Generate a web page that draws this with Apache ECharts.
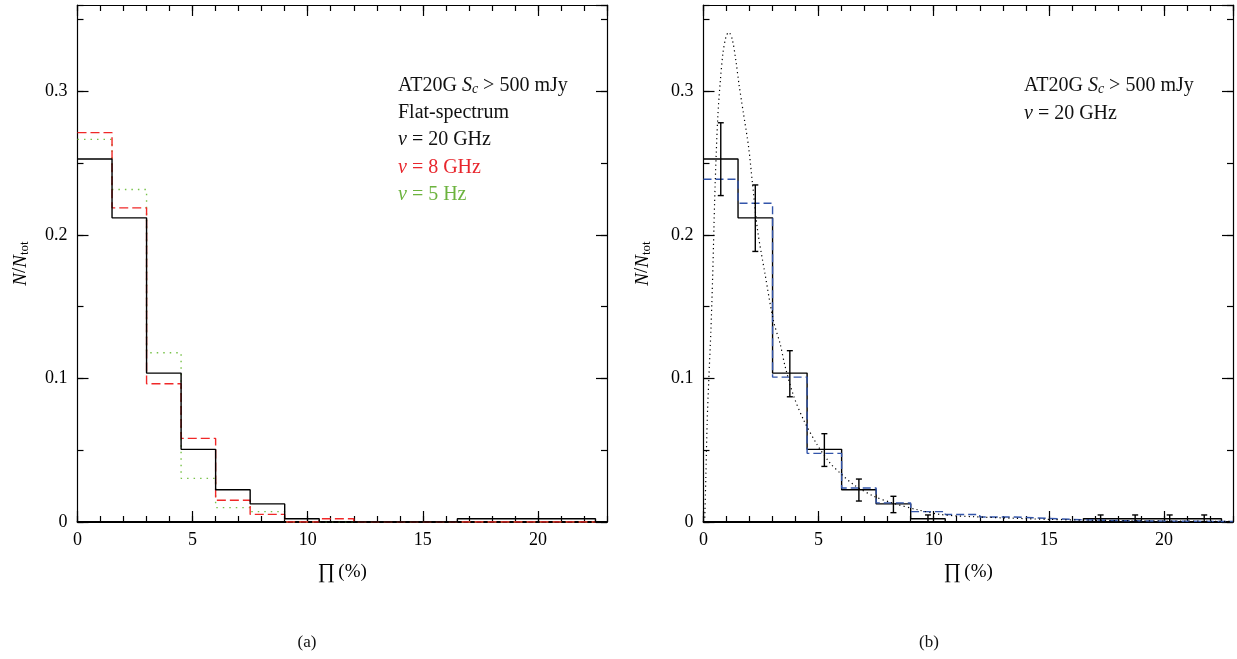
<!DOCTYPE html>
<html>
<head>
<meta charset="utf-8">
<script src="https://cdn.jsdelivr.net/npm/echarts@6/dist/echarts.min.js"></script>
<style>
  html, body { margin: 0; padding: 0; background: #fff; }
  #chart { width: 1237px; height: 659px; }
</style>
</head>
<body>
<div id="chart"></div>
<script>
// Histogram bin edges of polarisation fraction (%)
const binEdges = [0, 1.5, 3, 4.5, 6, 7.5, 9, 10.5, 12, 13.5, 15, 16.5, 18, 19.5, 21, 22.5, 23];

// Flat-spectrum sources, normalised counts per bin
const flat20GHz = [0.2528, 0.2118, 0.1037, 0.0506, 0.0225, 0.0126, 0.0023, 0, 0, 0, 0, 0.0023, 0.0023, 0.0023, 0.0023];
const flat8GHz  = [0.2711, 0.2187, 0.0963, 0.0582, 0.0151, 0.0053, 0, 0.0023, 0, 0, 0, 0, 0, 0, 0];
const flat5GHz  = [0.2664, 0.2315, 0.1179, 0.0304, 0.0100, 0.0072, 0, 0, 0, 0, 0, 0, 0, 0, 0];

// Binned model distribution (dashed blue), runs to the axis edge
const modelBinned = [0.2387, 0.2220, 0.1009, 0.0478, 0.0237, 0.0133, 0.0072, 0.0052, 0.0035, 0.0025, 0.0015, 0.0010, 0.0007, 0.0005, 0.0004, 0.0003];

// Poisson error bars on the 20 GHz histogram: bin centre, low, high
const errCentres = [0.75, 2.25, 3.75, 5.25, 6.75, 8.25, 9.75, 17.25, 18.75, 20.25, 21.75];
const errLow     = [0.2273, 0.1884, 0.0872, 0.0387, 0.0146, 0.0065, 0, 0, 0, 0, 0];
const errHigh    = [0.2780, 0.2347, 0.1193, 0.0615, 0.0299, 0.0179, 0.0049, 0.0049, 0.0049, 0.0049, 0.0049];

// Continuous model curve (dotted): [Pi %, N/Ntot]
const modelCurve = [
  [0.05, 0.000], [0.10, 0.030], [0.16, 0.070], [0.23, 0.099], [0.32, 0.133],
  [0.40, 0.172], [0.45, 0.203], [0.51, 0.237], [0.62, 0.282], [0.73, 0.307],
  [0.85, 0.327], [0.98, 0.338], [1.10, 0.341], [1.25, 0.336], [1.40, 0.322],
  [1.54, 0.305], [1.74, 0.284], [1.96, 0.261], [2.12, 0.237], [2.35, 0.203],
  [2.68, 0.172], [3.04, 0.140], [3.33, 0.124], [3.55, 0.108], [3.91, 0.088],
  [4.35, 0.071], [4.93, 0.054], [5.50, 0.041], [5.94, 0.034], [6.52, 0.026],
  [7.39, 0.018], [8.26, 0.013], [9.30, 0.0085], [10.3, 0.0052], [11.7, 0.0037],
  [13.5, 0.0026], [15.0, 0.0018], [16.9, 0.0012], [19.0, 0.0008], [21.0, 0.0006],
  [23.0, 0.0004]
];

const X_MAX = 23, Y_MAX = 0.36;
const SERIF = '"Liberation Serif", "DejaVu Serif", serif';
const INK = '#000';

function stepData(values) {
  const pts = values.map((v, i) => [binEdges[i], v]);
  const end = binEdges[values.length];
  pts.push([end, values.length === binEdges.length - 1 ? values[values.length - 1] : 0]);
  return pts;
}

const rich = {
  it:  { fontFamily: SERIF, fontSize: 20, fontStyle: 'italic', lineHeight: 22 },
  rm:  { fontFamily: SERIF, fontSize: 20, lineHeight: 22 },
  sub: { fontFamily: SERIF, fontSize: 14, fontStyle: 'italic', lineHeight: 14, verticalAlign: 'bottom' },
  subr:{ fontFamily: SERIF, fontSize: 14, lineHeight: 14, verticalAlign: 'bottom' }
};

function tick(len) {
  return { show: true, inside: true, length: len, lineStyle: { color: INK, width: 1.2 } };
}

// Major-tick axes (with labels and the frame) for a panel grid
function majorX(g) {
  const base = { gridIndex: g, type: 'value', min: 0, max: X_MAX, interval: 5, splitLine: { show: false } };
  return [
    Object.assign({}, base, {
      position: 'bottom',
      axisLine: { show: true, onZero: false, lineStyle: { color: INK, width: 1.8 } },
      axisTick: tick(11),
      axisLabel: { show: true, margin: 9, color: INK, fontFamily: SERIF, fontSize: 18, showMaxLabel: false },
      name: '{pi|\u220F} {rm|(%)}', nameLocation: 'middle', nameGap: 40,
      nameTextStyle: { color: INK, rich: { pi: { fontFamily: SERIF, fontSize: 21 }, rm: { fontFamily: SERIF, fontSize: 19 } } }
    }),
    Object.assign({}, base, {
      position: 'top', axisLabel: { show: false }, axisTick: tick(11),
      axisLine: { show: true, onZero: false, lineStyle: { color: INK, width: 1.2 } }
    })
  ];
}
function majorY(g, gap) {
  const base = { gridIndex: g, type: 'value', min: 0, max: Y_MAX, interval: 0.1, splitLine: { show: false } };
  return [
    Object.assign({}, base, {
      position: 'left',
      axisLine: { show: true, onZero: false, lineStyle: { color: INK, width: 1.2 } },
      axisTick: tick(11),
      axisLabel: { show: true, margin: 10, color: INK, fontFamily: SERIF, fontSize: 18, showMaxLabel: false },
      name: '{it|N}{rm|/}{it|N}{subr|tot}', nameLocation: 'middle', nameRotate: 90, nameGap: gap,
      nameTextStyle: { color: INK, rich: {
        it: { fontFamily: SERIF, fontSize: 19, fontStyle: 'italic', lineHeight: 22 },
        rm: { fontFamily: SERIF, fontSize: 19, lineHeight: 22 },
        subr: { fontFamily: SERIF, fontSize: 13, lineHeight: 13, verticalAlign: 'bottom' }
      } }
    }),
    Object.assign({}, base, {
      position: 'right', axisLabel: { show: false }, axisTick: tick(11),
      axisLine: { show: true, onZero: false, lineStyle: { color: INK, width: 1.2 } }
    })
  ];
}
// Minor-tick axes, on an overlay grid with the same rectangle
function minorX(g) {
  const base = { gridIndex: g, type: 'value', min: 0, max: X_MAX, interval: 1, splitLine: { show: false },
                 axisLine: { show: false, onZero: false }, axisLabel: { show: false }, axisTick: tick(6) };
  return [Object.assign({}, base, { position: 'bottom' }), Object.assign({}, base, { position: 'top' })];
}
function minorY(g) {
  const base = { gridIndex: g, type: 'value', min: 0, max: Y_MAX, interval: 0.05, splitLine: { show: false },
                 axisLine: { show: false, onZero: false }, axisLabel: { show: false }, axisTick: tick(6) };
  return [Object.assign({}, base, { position: 'left' }), Object.assign({}, base, { position: 'right' })];
}

function stepSeries(name, values, ai, color, dash, z) {
  return {
    name: name, type: 'line', xAxisIndex: ai, yAxisIndex: ai, step: 'end',
    data: stepData(values), symbol: 'none', z: z, animation: false,
    lineStyle: { color: color, width: 1.4, type: dash }
  };
}

const errorData = errCentres.map((c, i) => [c, errLow[i], errHigh[i]]);

function colorRich(color) {
  const r = {};
  Object.keys(rich).forEach(k => { r[k] = Object.assign({}, rich[k], { color: color }); });
  return r;
}
function label(text, x, y, color) {
  return {
    type: 'text', x: x, y: y, z: 100,
    style: { text: text, rich: colorRich(color), fill: color, align: 'left', verticalAlign: 'middle',
             fontFamily: SERIF, fontSize: 20 }
  };
}

const leftRect  = { left: 77.5, top: 5, width: 529.5, height: 517 };
const rightRect = { left: 703.5, top: 5, width: 529.5, height: 517 };

const chart = echarts.init(document.getElementById('chart'), null, { renderer: 'canvas' });
chart.setOption({
  backgroundColor: '#fff',
  animation: false,
  grid: [leftRect, rightRect, Object.assign({}, leftRect), Object.assign({}, rightRect)],
  // x indices: 0 left-bottom, 1 left-top, 2 right-bottom, 3 right-top, 4..7 minor
  xAxis: majorX(0).concat(majorX(1), minorX(2), minorX(3)),
  yAxis: majorY(0, 46).concat(majorY(1, 50), minorY(2), minorY(3)),
  series: [
    stepSeries('5 GHz', flat5GHz, 0, '#78c24a', [1.5, 5], 2),
    stepSeries('8 GHz', flat8GHz, 0, '#f02828', [9, 4], 3),
    stepSeries('20 GHz', flat20GHz, 0, INK, 'solid', 4),
    stepSeries('20 GHz', flat20GHz, 2, INK, 'solid', 2),
    stepSeries('model binned', modelBinned, 2, '#3355aa', [8, 4], 3),
    {
      name: 'model', type: 'line', xAxisIndex: 2, yAxisIndex: 2, data: modelCurve,
      symbol: 'none', smooth: 0.3, z: 4, animation: false,
      lineStyle: { color: INK, width: 1.2, type: [1.2, 3.2] }
    },
    {
      name: 'errors', type: 'custom', xAxisIndex: 2, yAxisIndex: 2, data: errorData, z: 5,
      encode: { x: 0, y: [1, 2] },
      renderItem: function (params, api) {
        const x = api.value(0);
        const top = api.coord([x, api.value(2)]);
        const bot = api.coord([x, api.value(1)]);
        const w = 3;
        const st = { stroke: INK, lineWidth: 1.4 };
        return {
          type: 'group',
          children: [
            { type: 'line', shape: { x1: top[0], y1: top[1], x2: bot[0], y2: bot[1] }, style: st },
            { type: 'line', shape: { x1: top[0] - w, y1: top[1], x2: top[0] + w, y2: top[1] }, style: st },
            { type: 'line', shape: { x1: bot[0] - w, y1: bot[1], x2: bot[0] + w, y2: bot[1] }, style: st }
          ]
        };
      }
    }
  ],
  graphic: [
    label('{rm|AT20G }{it|S}{sub|c}{rm| > 500 mJy}', 398, 85.5, '#111'),
    label('{rm|Flat-spectrum}', 398, 113, '#111'),
    label('{it|\u03BD}{rm| = 20 GHz}', 398, 140, '#111'),
    label('{it|\u03BD}{rm| = 8 GHz}', 398, 167.5, '#e8262d'),
    label('{it|\u03BD}{rm| = 5 Hz}', 398, 195, '#6cb33e'),
    label('{rm|AT20G }{it|S}{sub|c}{rm| > 500 mJy}', 1024, 85.5, '#111'),
    label('{it|\u03BD}{rm| = 20 GHz}', 1024, 114, '#111'),
    { type: 'text', x: 307, y: 643, style: { text: '(a)', fill: '#111', fontFamily: SERIF, fontSize: 17, align: 'center', verticalAlign: 'middle' } },
    { type: 'text', x: 929, y: 643, style: { text: '(b)', fill: '#111', fontFamily: SERIF, fontSize: 17, align: 'center', verticalAlign: 'middle' } }
  ]
});
</script>
</body>
</html>
